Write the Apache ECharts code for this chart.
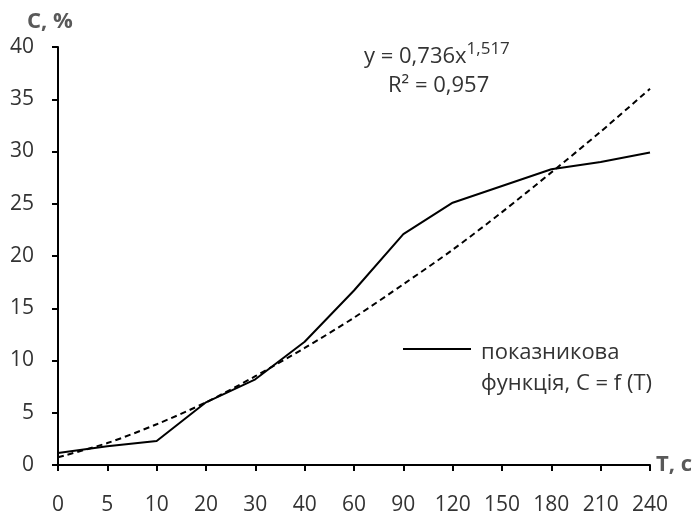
<!DOCTYPE html>
<html>
<head>
<meta charset="utf-8">
<script src="https://cdn.jsdelivr.net/npm/echarts@6/dist/echarts.min.js"></script>
<style>
html,body{margin:0;padding:0;background:#fff;}
#chart{width:697px;height:519px;}
</style>
</head>
<body>
<div id="chart"></div>
<script>
// час, с (категорії осі X)
var timeLabels = ['0','5','10','20','30','40','60','90','120','150','180','210','240'];
// концентрація, % - показникова функція
var concValues = [1.15, 1.8, 2.3, 6.0, 8.2, 11.8, 16.7, 22.1, 25.1, 26.7, 28.3, 29.0, 29.9];
// лінія тренду (степенева), зчитана з рисунку
var trendValues = [0.74, 2.1, 3.9, 6.0, 8.5, 11.2, 14.1, 17.3, 20.6, 24.2, 28.0, 31.9, 36.0];
// поділки осі Y
var yMin = 0, yMax = 40, yStep = 5;

var font = 'Open Sans';
var chart = echarts.init(document.getElementById('chart'));
var option = {
    backgroundColor: '#fff',
    animation: false,
    grid: {
        left: 58,
        right: 47,
        top: 47,
        bottom: 54
    },
    xAxis: {
        type: 'category',
        data: timeLabels,
        boundaryGap: false,
        axisLine: { lineStyle: { color: '#000', width: 2 } },
        axisTick: { show: true, length: 6, lineStyle: { color: '#000', width: 2 }, alignWithLabel: true },
        axisLabel: { color: '#333', fontFamily: font, fontSize: 21, margin: 30, interval: 0 },
        splitLine: { show: false }
    },
    yAxis: {
        type: 'value',
        min: yMin,
        max: yMax,
        interval: yStep,
        axisLine: { show: true, lineStyle: { color: '#000', width: 2 } },
        axisTick: { show: true, length: 6, lineStyle: { color: '#000', width: 2 } },
        axisLabel: { color: '#333', fontFamily: font, fontSize: 21, margin: 24 },
        splitLine: { show: false }
    },
    series: [{
        name: 'показникова функція, C = f (T)',
        type: 'line',
        data: concValues,
        symbol: 'none',
        lineStyle: { color: '#000', width: 2 },
        z: 3
    }, {
        name: 'тренд',
        type: 'line',
        data: trendValues,
        symbol: 'none',
        smooth: 0.3,
        lineStyle: { color: '#000', width: 2, type: [6, 4] },
        z: 2
    }],
    graphic: [{
        type: 'text', x: 27, y: 22,
        style: { text: 'C, %', fontFamily: font, fontSize: 22, fontWeight: 'bold', fill: '#595959', verticalAlign: 'middle' }
    }, {
        type: 'text', x: 656, y: 465,
        style: { text: 'T, c', fontFamily: font, fontSize: 22, fontWeight: 'bold', fill: '#595959', verticalAlign: 'middle' }
    }, {
        type: 'text', x: 364, y: 54,
        style: {
            text: '{a|y = 0,736x}{s|1,517}',
            verticalAlign: 'middle',
            rich: {
                a: { fontFamily: font, fontSize: 22, fill: '#333', verticalAlign: 'bottom' },
                s: { fontFamily: font, fontSize: 17, fill: '#333', verticalAlign: 'top', padding: [0, 0, 10, 0] }
            }
        }
    }, {
        type: 'text', x: 388, y: 86,
        style: { text: 'R\u00B2 = 0,957', fontFamily: font, fontSize: 22, fill: '#333', verticalAlign: 'middle' }
    }, {
        type: 'line',
        shape: { x1: 403, y1: 349, x2: 471, y2: 349 },
        style: { stroke: '#000', lineWidth: 2 }
    }, {
        type: 'text', x: 481, y: 368,
        style: { text: 'показникова\nфункція, C = f (T)', fontFamily: font, fontSize: 22, lineHeight: 31, fill: '#333', verticalAlign: 'middle' }
    }]
};
chart.setOption(option);
</script>
</body>
</html>
